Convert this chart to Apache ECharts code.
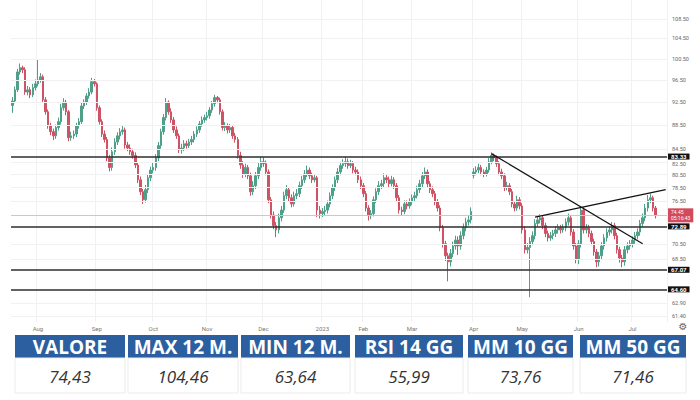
<!DOCTYPE html>
<html>
<head>
<meta charset="utf-8">
<script src="https://cdn.jsdelivr.net/npm/echarts@6/dist/echarts.min.js"></script>
<style>
html,body{margin:0;padding:0;background:#ffffff;}
#chart{width:700px;height:400px;}
</style>
</head>
<body>
<div id="chart"></div>
<script>
// ---- data ----
const monthNames = ['Jul','Aug','Sep','Oct','Nov','Dec','2023','Feb','Mar','Apr','May','Jun','Jul'];
const monthBars  = [10,23,22,21,22,23,16,19,24,19,22,21,10];
const rightPadBars = 4;

const opens = [91.9,92.7,94.7,98.0,98.8,98.4,94.3,94.7,93.8,95.1,95.8,96.5,97.1,92.9,90.8,88.4,87.4,86.7,88.1,89.1,
91.5,92.5,90.8,86.4,86.7,87.0,88.4,89.1,91.8,92.5,93.6,94.3,96.2,95.8,91.5,89.1,87.0,86.1,83.1,81.6,
84.1,85.7,86.7,87.4,87.7,85.2,84.7,84.1,83.5,82.0,79.7,77.9,76.7,78.2,80.0,81.2,81.6,83.1,85.1,87.4,
89.8,92.5,90.8,89.4,87.7,86.7,84.4,84.7,85.4,85.1,85.7,86.1,87.0,87.7,88.7,89.4,89.8,90.1,91.1,92.2,
93.3,92.9,90.8,88.1,88.4,87.7,88.1,86.7,86.1,83.5,82.0,80.6,81.6,80.3,77.9,78.8,80.3,81.6,82.5,82.2,
80.9,76.7,74.5,73.0,72.4,74.1,75.2,77.3,78.2,77.0,76.1,77.3,77.6,78.8,79.7,80.6,81.2,80.3,79.7,80.0,
75.2,74.7,75.0,75.2,76.1,77.3,78.5,79.7,80.9,81.9,82.2,82.5,81.9,82.2,81.2,80.9,79.7,78.8,77.6,75.5,
74.4,74.7,76.7,77.9,78.8,79.1,80.0,79.7,79.1,79.7,78.8,77.0,75.2,75.0,76.1,75.8,76.4,77.0,77.3,78.2,
79.1,80.3,80.9,79.1,78.2,77.6,76.4,75.5,72.7,70.5,68.9,68.1,69.2,70.2,71.0,70.2,71.6,72.7,73.5,73.8,
80.4,80.9,81.2,81.6,80.9,80.6,81.2,82.5,83.5,83.1,82.2,80.9,80.3,78.5,78.8,77.9,76.1,75.5,76.7,75.8,
72.4,69.7,70.0,70.8,71.6,73.3,73.8,74.1,73.0,71.9,71.3,71.6,71.9,72.4,72.7,72.4,72.7,73.5,74.1,72.1,
70.2,68.4,70.5,75.2,72.4,72.7,71.9,70.8,69.4,68.1,68.9,70.2,71.3,72.1,72.4,73.0,71.6,69.7,68.6,68.1,
69.7,70.2,70.5,71.0,71.6,72.1,73.3,74.1,75.5,76.7,77.0,75.5];
const closes = [92.7,94.7,98.0,98.8,98.4,94.3,94.7,93.8,95.1,95.8,96.5,97.1,92.9,90.8,88.4,87.4,86.7,88.1,89.1,91.5,
92.5,90.8,86.4,86.7,87.0,88.4,89.1,91.8,92.5,93.6,94.3,96.2,95.8,91.5,89.1,87.0,86.1,83.1,81.6,84.1,
85.7,86.7,87.4,87.7,85.2,84.7,84.1,83.5,82.0,79.7,77.9,76.7,78.2,80.0,81.2,81.6,83.1,85.1,87.4,89.8,
92.5,90.8,89.4,87.7,86.7,84.4,84.7,85.4,85.1,85.7,86.1,87.0,87.7,88.7,89.4,89.8,90.1,91.1,92.2,93.3,
92.9,90.8,88.1,88.4,87.7,88.1,86.7,86.1,83.5,82.0,80.6,81.6,80.3,77.9,78.8,80.3,81.6,82.5,82.2,80.9,
76.7,74.5,73.0,72.4,74.1,75.2,77.3,78.2,77.0,76.1,77.3,77.6,78.8,79.7,80.6,81.2,80.3,79.7,80.0,75.2,
74.7,75.0,75.2,76.1,77.3,78.5,79.7,80.9,81.9,82.2,82.5,81.9,82.2,81.2,80.9,79.7,78.8,77.6,75.5,74.4,
74.7,76.7,77.9,78.8,79.1,80.0,79.7,79.1,79.7,78.8,77.0,75.2,75.0,76.1,75.8,76.4,77.0,77.3,78.2,79.1,
80.3,80.9,79.1,78.2,77.6,76.4,75.5,72.7,70.5,68.9,68.1,69.2,70.2,71.0,70.2,71.6,72.7,73.5,73.8,75.0,
80.9,81.2,81.6,80.9,80.6,81.2,82.5,83.5,83.1,82.2,80.9,80.3,78.5,78.8,77.9,76.1,75.5,76.7,75.8,72.4,
69.7,70.0,70.8,71.6,73.3,73.8,74.1,73.0,71.9,71.3,71.6,71.9,72.4,72.7,72.4,72.7,73.5,74.1,72.1,70.2,
68.4,70.5,75.2,72.4,72.7,71.9,70.8,69.4,68.1,68.9,70.2,71.3,72.1,72.4,73.0,71.6,69.7,68.6,68.1,69.7,
70.2,70.5,71.0,71.6,72.1,73.3,74.1,75.5,76.7,77.0,75.5,74.45];
const highs = [93.4,95.3,98.6,99.6,99.2,98.9,95.4,95.2,95.8,96.6,100.3,97.8,97.5,93.4,91.2,88.9,87.9,88.6,89.8,92.2,
93.2,92.9,91.1,87.4,87.6,88.9,89.7,92.4,93.0,94.1,95.0,96.9,96.7,96.1,91.9,89.5,87.6,86.5,83.6,84.8,
86.3,87.3,88.0,88.5,88.1,85.7,85.3,84.6,84.0,82.4,80.2,78.3,78.9,80.6,81.7,82.3,83.7,85.7,87.9,90.4,
93.2,92.8,91.4,89.9,88.3,87.1,85.4,86.0,85.9,86.2,86.7,87.5,88.3,89.2,90.0,90.3,90.8,91.6,92.7,93.8,
93.6,93.3,91.2,89.0,88.8,88.7,88.5,87.2,86.5,84.1,82.6,82.2,82.0,80.8,79.5,80.9,82.3,83.3,83.2,82.7,
81.3,77.1,75.0,73.5,74.7,75.8,77.9,78.9,78.6,77.5,77.9,78.3,79.4,80.3,81.2,81.9,81.6,80.8,80.6,80.3,
75.8,75.5,75.8,76.6,77.8,79.0,80.2,81.5,82.5,82.9,83.3,83.0,82.8,82.6,81.7,81.3,80.2,79.2,78.0,75.9,
75.2,77.2,78.4,79.5,79.7,80.7,80.5,80.2,80.3,80.1,79.2,77.4,75.7,76.6,76.6,76.9,77.5,77.9,78.8,79.7,
80.9,81.6,81.3,79.5,78.7,78.0,76.8,75.9,73.1,70.9,69.3,69.8,70.8,71.6,71.5,72.2,73.3,74.1,74.4,75.6,
81.5,81.8,82.2,82.0,81.3,81.7,83.1,84.0,83.8,83.5,82.6,81.4,80.7,79.4,79.2,78.3,76.5,77.3,77.1,76.2,
72.9,70.6,71.4,72.2,73.9,74.4,74.6,74.5,73.4,72.3,72.1,72.4,72.9,73.2,73.1,73.2,74.0,74.7,74.5,72.5,
70.6,71.0,75.8,75.6,73.2,73.1,72.3,71.2,69.8,69.4,70.7,71.8,72.6,72.9,73.5,73.4,72.0,70.1,69.0,70.2,
70.7,71.0,71.5,72.1,72.6,73.8,74.7,76.1,77.4,77.6,77.3,75.8];
const lows = [90.6,92.3,94.3,97.5,97.8,93.8,93.7,93.2,93.4,94.6,95.3,96.0,92.4,90.3,87.9,86.8,86.0,86.2,87.6,88.6,
91.0,90.2,85.8,85.9,86.2,86.5,87.9,88.7,91.3,92.0,93.1,93.9,95.3,91.0,88.6,86.5,85.6,82.6,81.0,81.1,
83.6,85.2,86.1,86.9,84.6,84.2,83.6,83.0,81.5,79.2,77.4,76.1,76.3,77.7,79.5,80.7,81.1,82.6,84.6,86.9,
89.3,90.3,88.9,87.2,86.2,83.9,83.8,84.2,84.6,84.7,85.2,85.6,86.5,87.2,88.2,88.9,89.3,89.6,90.6,91.7,
92.3,90.3,87.6,87.5,87.1,87.2,86.2,85.6,83.0,81.4,80.0,80.1,79.8,77.3,77.4,78.3,79.8,81.1,81.7,80.4,
76.2,74.0,72.5,71.4,71.9,73.6,74.8,76.8,76.5,75.6,75.7,76.8,77.1,78.3,79.2,80.1,79.8,79.2,79.3,74.2,
74.0,74.2,74.5,74.7,75.6,76.8,78.0,79.2,80.4,81.4,81.7,81.4,81.5,80.7,80.4,79.2,78.3,77.1,75.0,73.7,
73.9,74.3,76.2,77.4,78.3,78.6,79.2,78.6,78.7,78.3,76.5,74.7,74.4,74.6,75.3,75.4,75.9,76.5,76.9,77.7,
78.6,79.8,78.6,77.7,77.1,75.9,75.0,72.2,70.0,68.2,65.6,67.5,68.7,69.7,69.0,69.7,71.1,72.2,73.0,73.3,
79.9,80.4,80.7,80.4,80.1,80.2,80.8,82.1,82.6,81.7,80.4,79.8,78.0,78.1,77.4,75.6,75.0,75.1,75.3,71.9,
69.2,69.2,63.64,70.3,71.1,72.8,73.3,72.5,71.4,70.8,70.9,71.1,71.4,71.9,71.9,72.0,72.2,73.0,71.6,69.7,
67.9,67.8,70.0,71.9,71.9,71.4,70.3,68.9,67.4,67.5,68.4,69.7,70.8,71.6,71.9,71.1,69.2,68.0,67.4,67.6,
69.2,69.7,70.0,70.5,71.1,71.6,72.8,73.6,75.0,76.2,75.0,74.0];

const priceTicks = [108.50,104.50,100.50,96.50,92.50,88.50,84.50,82.50,80.50,78.50,76.50,70.50,68.50,62.90,61.40];
const levelPrices = [83.33,72.89,67.07,64.60];
const lastPrice = 74.45;
const lastPriceSub = '05:16:43';
const trendDown = [[187,83.8],[246,70.5]];   // [bar index, price]
const trendUp   = [[204,74.2],[255,78.2]];

const statLabels = ['VALORE','MAX 12 M.','MIN 12 M.','RSI 14 GG','MM 10 GG','MM 50 GG'];
const statValues = ['74,43','104,46','63,64','55,99','73,76','71,46'];

// ---- build ----
const cats = [];
monthNames.forEach((m, mi) => { for (let k = 0; k < monthBars[mi]; k++) cats.push(m + ' ' + (k + 1)); });
for (let p = 0; p < rightPadBars; p++) cats.push('pad ' + (p + 2));
const isMonthStart = (idx, val) => idx > 0 && String(val).split(' ')[1] === '1';

const candles = closes.map((c, i) => [opens[i], c, lows[i], highs[i]]);

const chart = echarts.init(document.getElementById('chart'), null, {renderer: 'svg'});

const cellX = [15,128,241,355,468,580];
const cellW = [110,110,109,108,105,106];
const graphics = [];
statLabels.forEach((lab, i) => {
  graphics.push({type:'rect', shape:{x:cellX[i], y:335, width:cellW[i], height:23}, style:{fill:'#2b5f9f'}});
  graphics.push({type:'text', x:cellX[i] + cellW[i]/2, y:347, style:{text:lab, fill:'#ffffff', font:'bold 19px "Open Sans", sans-serif', align:'center', verticalAlign:'middle'}});
  graphics.push({type:'rect', shape:{x:cellX[i], y:358, width:cellW[i], height:35}, style:{fill:'#ffffff', stroke:'#ebebeb', lineWidth:1}});
  graphics.push({type:'text', x:cellX[i] + cellW[i]/2, y:376, style:{text:statValues[i], fill:'#333333', font:'italic 17px "Open Sans", sans-serif', align:'center', verticalAlign:'middle'}});
});
graphics.push({type:'text', x:683, y:326, style:{text:'\u2699', fill:'#666', font:'10px "DejaVu Sans"', align:'center', verticalAlign:'middle'}});

const trendPair = t => [{coord:[cats[t[0][0]], t[0][1]]}, {coord:[cats[t[1][0]], t[1][1]]}];
const nearLevel = v => levelPrices.some(l => Math.abs(l - v) < 1);

chart.setOption({
  animation: false,
  backgroundColor: '#ffffff',
  grid: {left: 11, right: 33, top: 0, bottom: 78, containLabel: false},
  xAxis: {
    type: 'category', data: cats, boundaryGap: true,
    axisLine: {show: false}, axisTick: {show: false},
    axisLabel: {interval: isMonthStart, formatter: v => String(v).split(' ')[0], fontSize: 6, color: '#777', margin: 3, fontFamily: 'Roboto'},
    splitLine: {show: true, interval: isMonthStart, lineStyle: {color: '#f1f1f4', width: 1}}
  },
  yAxis: {
    type: 'log', logBase: 10, min: 60.68, max: 112.5, position: 'right',
    axisLine: {show: false}, axisTick: {show: false}, axisLabel: {show: false}, splitLine: {show: false}
  },
  series: [
    {
      type: 'line', data: [], z: 1,
      markLine: {silent: true, symbol: ['none','none'],
        lineStyle: {color: '#f1f1f4', width: 1, type: 'solid'},
        label: {position: 'end', distance: 5, formatter: p => p.value.toFixed(2), fontSize: 5.5, lineHeight: 6, color: '#666', fontFamily: 'Roboto'},
        data: priceTicks.map(v => nearLevel(v) ? {yAxis: v, label: {offset: [0, 2]}} : {yAxis: v})}
    },
    {
      type: 'candlestick', data: candles, barWidth: 2, z: 2,
      itemStyle: {color: '#4f9f89', color0: '#cd5365', borderColor: '#4f9f89', borderColor0: '#cd5365', borderWidth: 1}
    },
    {
      type: 'line', data: [], z: 3,
      markLine: {silent: true, symbol: ['none','none'],
        lineStyle: {color: '#c9c9c9', width: 1, type: 'solid'},
        label: {position: 'end', distance: 1, formatter: () => lastPrice.toFixed(2) + '\n' + lastPriceSub,
          backgroundColor: '#d24a5c', color: '#fff', fontSize: 5, lineHeight: 6, padding: [1, 3], fontFamily: 'Roboto'},
        data: [{yAxis: lastPrice}]}
    },
    {
      type: 'line', data: [], z: 4,
      markLine: {silent: true, symbol: ['none','none'],
        lineStyle: {color: '#2e2e2e', width: 1.6, type: 'solid'},
        label: {position: 'end', distance: 1, formatter: p => p.value.toFixed(2),
          backgroundColor: '#111', color: '#fff', fontSize: 6, lineHeight: 6, fontWeight: 'bold', padding: [0, 3], fontFamily: 'Roboto'},
        data: levelPrices.map(v => ({yAxis: v}))}
    },
    {
      type: 'line', data: [], z: 5,
      markLine: {silent: true, symbol: ['none','none'],
        lineStyle: {color: '#111', width: 1.2, type: 'solid'},
        label: {show: false},
        data: [trendPair(trendDown), trendPair(trendUp)]}
    }
  ],
  graphic: graphics
});
</script>
</body>
</html>
